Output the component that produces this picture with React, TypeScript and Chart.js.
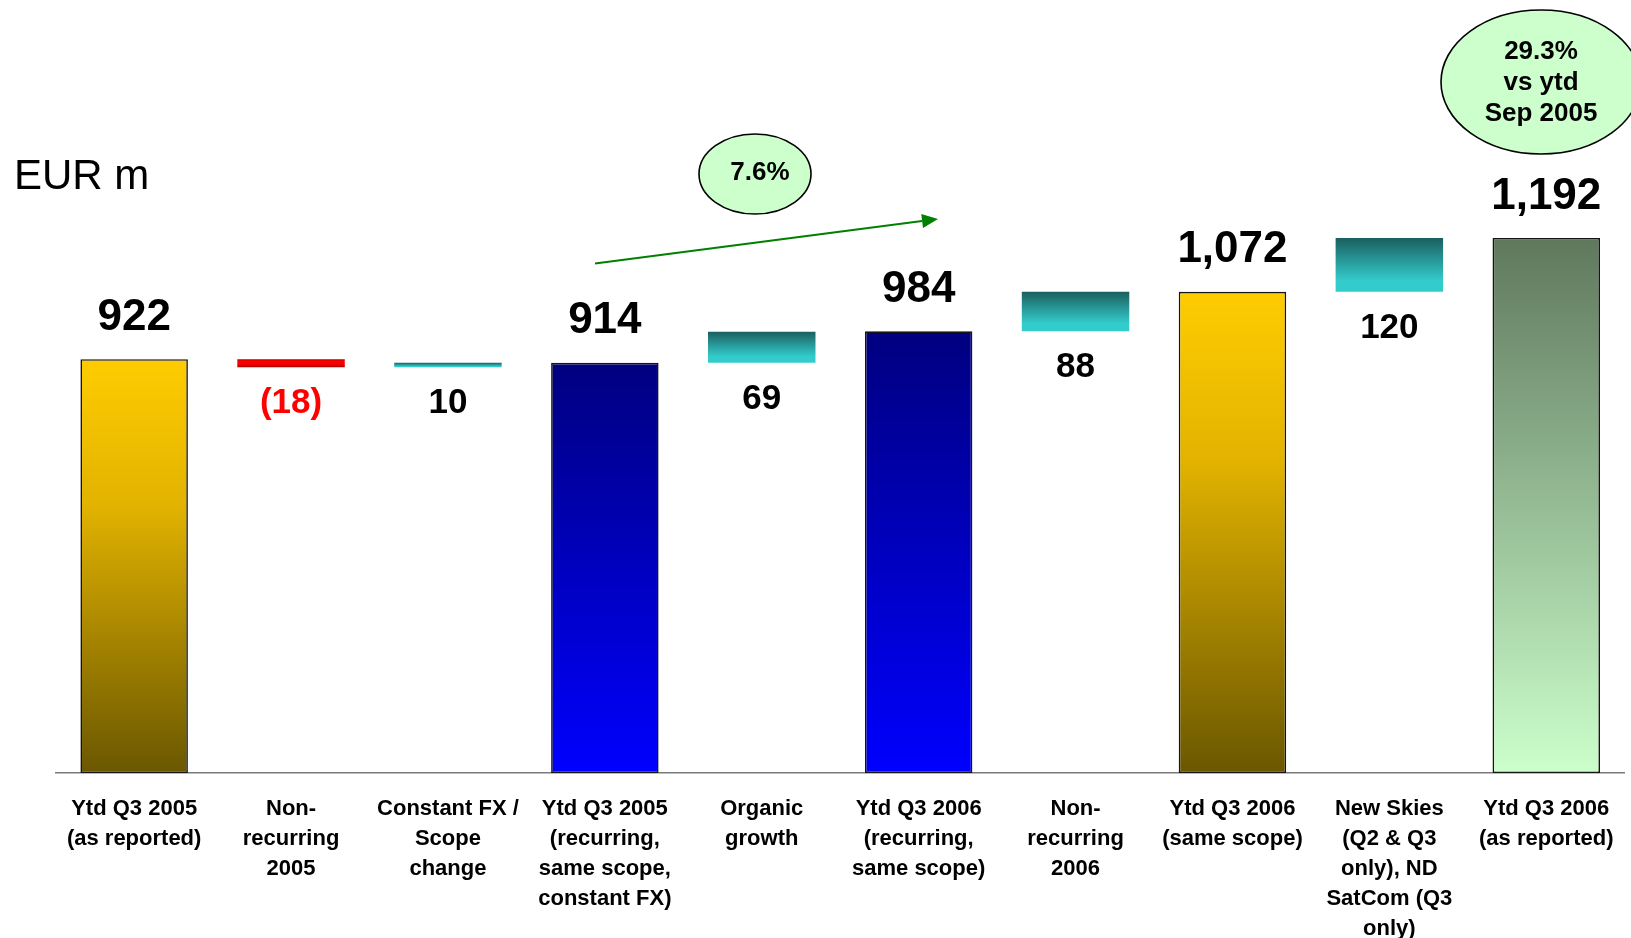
import React, { useEffect, useRef } from 'react';
import { Chart, registerables } from 'chart.js';

Chart.register(...registerables);

// ---------- data ----------
const categories: string[][] = [
  ['Ytd Q3 2005', '(as reported)'],
  ['Non-', 'recurring', '2005'],
  ['Constant FX /', 'Scope', 'change'],
  ['Ytd Q3 2005', '(recurring,', 'same scope,', 'constant FX)'],
  ['Organic', 'growth'],
  ['Ytd Q3 2006', '(recurring,', 'same scope)'],
  ['Non-', 'recurring', '2006'],
  ['Ytd Q3 2006', '(same scope)'],
  ['New Skies', '(Q2 & Q3', 'only), ND', 'SatCom (Q3', 'only)'],
  ['Ytd Q3 2006', '(as reported)'],
];
const values: number[] = [922, -18, 10, 914, 69, 984, 88, 1072, 120, 1192];
const kinds: string[] = ['total', 'delta', 'delta', 'total', 'delta', 'total', 'delta', 'total', 'delta', 'total'];
const growthLabel = '7.6%';
const totalGrowthLines: string[] = ['29.3%', 'vs ytd', 'Sep 2005'];
const unitLabel = 'EUR m';

// ---------- derived ranges (waterfall) ----------
let running = 0;
const ranges: number[][] = values.map((v, i) => {
  if (kinds[i] === 'total') {
    running = v;
    return [0, v];
  }
  const start = running;
  running += v;
  return [Math.min(start, running), Math.max(start, running)];
});

const fmt = (v: number) => {
  const s = Math.abs(v).toLocaleString('en-US');
  return v < 0 ? `(${s})` : s;
};

// ---------- styles ----------
const FONT = '"Liberation Sans", Arial, Helvetica, sans-serif';
type Stops = [number, string][];
const GOLD: Stops = [[0, '#FFCC00'], [0.35, '#E2B300'], [0.72, '#9E7E00'], [1, '#6A5700']];
const BLUE: Stops = [[0, '#000080'], [1, '#0000FF']];
const GREEN: Stops = [[0, '#5F785D'], [1, '#CCFFCC']];
const TEAL: Stops = [[0, '#1B5F5F'], [0.5, '#2AA3A3'], [0.8, '#33CCCC'], [1, '#33CCCC']];
const RED: Stops = [[0, '#B00000'], [0.25, '#FF0000'], [0.7, '#EE0000'], [1, '#A00000']];
const barFills: Stops[] = [GOLD, RED, TEAL, BLUE, TEAL, BLUE, TEAL, GOLD, TEAL, GREEN];

function grad(ctx: CanvasRenderingContext2D, top: number, bottom: number, stops: Stops) {
  const g = ctx.createLinearGradient(0, top, 0, bottom === top ? top + 1 : bottom);
  stops.forEach(([o, c]) => g.addColorStop(o, c));
  return g;
}

const valueLabelPlugin = {
  id: 'valueLabels',
  afterDatasetsDraw(chart: any) {
    const meta = chart.getDatasetMeta(0);
    const ctx: CanvasRenderingContext2D = chart.ctx;
    ctx.save();
    ctx.textAlign = 'center';
    ctx.textBaseline = 'alphabetic';
    meta.data.forEach((el: any, i: number) => {
      const { x, y, base } = el.getProps(['x', 'y', 'base'], true);
      const top = Math.min(y, base);
      const bottom = Math.max(y, base);
      const isTotal = kinds[i] === 'total';
      ctx.font = `bold ${isTotal ? 44 : 35}px ${FONT}`;
      ctx.fillStyle = values[i] < 0 ? '#FF0000' : '#000000';
      ctx.fillText(fmt(values[i]), x, isTotal ? top - 29.5 : bottom + 46);
    });
    ctx.restore();
  },
};

const annotationPlugin = {
  id: 'annotations',
  afterDraw(chart: any) {
    const ctx: CanvasRenderingContext2D = chart.ctx;
    ctx.save();
    // unit label
    ctx.font = `42px ${FONT}`;
    ctx.fillStyle = '#000';
    ctx.textAlign = 'left';
    ctx.textBaseline = 'alphabetic';
    ctx.fillText(unitLabel, 14, 189);

    // arrow
    const x1 = 595, y1 = 263.5, x2 = 938, y2 = 219;
    const ang = Math.atan2(y2 - y1, x2 - x1);
    const hl = 16, hw = 7;
    const bx = x2 - hl * Math.cos(ang), by = y2 - hl * Math.sin(ang);
    ctx.strokeStyle = '#008000';
    ctx.fillStyle = '#008000';
    ctx.lineWidth = 2;
    ctx.beginPath();
    ctx.moveTo(x1, y1);
    ctx.lineTo(bx, by);
    ctx.stroke();
    ctx.beginPath();
    ctx.moveTo(x2, y2);
    ctx.lineTo(bx + hw * Math.sin(ang), by - hw * Math.cos(ang));
    ctx.lineTo(bx - hw * Math.sin(ang), by + hw * Math.cos(ang));
    ctx.closePath();
    ctx.fill();

    // bubbles
    const bubble = (cx: number, cy: number, rx: number, ry: number) => {
      ctx.beginPath();
      ctx.ellipse(cx, cy, rx, ry, 0, 0, Math.PI * 2);
      ctx.fillStyle = '#CCFFCC';
      ctx.fill();
      ctx.lineWidth = 1.6;
      ctx.strokeStyle = '#000';
      ctx.stroke();
    };
    bubble(755, 174, 56, 40);
    bubble(1541, 82, 100, 72);

    ctx.fillStyle = '#000';
    ctx.textAlign = 'center';
    ctx.font = `bold 26px ${FONT}`;
    ctx.fillText(growthLabel, 760, 180);
    totalGrowthLines.forEach((t, i) => ctx.fillText(t, 1541, 59 + i * 31));
    ctx.restore();
  },
};

export default function App() {
  const ref = useRef<HTMLCanvasElement | null>(null);

  useEffect(() => {
    if (!ref.current) return;
    const chart = new Chart(ref.current, {
      type: 'bar',
      data: {
        labels: categories,
        datasets: [
          {
            data: ranges as any,
            backgroundColor: (c: any) => {
              const ch = c.chart;
              const ys = ch.scales?.y;
              if (!ch.chartArea || !ys || c.dataIndex === undefined) return '#999';
              const r = ranges[c.dataIndex];
              const top = ys.getPixelForValue(r[1]);
              const bottom = ys.getPixelForValue(r[0]);
              if (!isFinite(top) || !isFinite(bottom)) return '#999';
              return grad(ch.ctx, top, bottom, barFills[c.dataIndex]);
            },
            borderColor: '#151515',
            borderWidth: (c: any) => (kinds[c.dataIndex] === 'total' ? 1.6 : 0),
            borderSkipped: false,
            categoryPercentage: 0.685,
            barPercentage: 1,
          },
        ],
      },
      options: {
        animation: false,
        responsive: false,
        devicePixelRatio: 1,
        layout: { padding: { left: 55.7, right: 6.3, top: 10, bottom: 0 } },
        plugins: {
          legend: { display: false },
          tooltip: { enabled: false },
        },
        scales: {
          x: {
            grid: { display: false, drawTicks: false },
            border: { display: true, color: '#7a7a7a', width: 1.5 },
            ticks: {
              autoSkip: false,
              maxRotation: 0,
              minRotation: 0,
              padding: 21,
              color: '#000',
              font: { family: FONT, size: 22, weight: 'bold', lineHeight: 30 / 22 },
            },
            afterFit: (scale: any) => {
              scale.height = 165;
              scale.paddingLeft = 0;
              scale.paddingRight = 0;
            },
          },
          y: {
            display: false,
            min: 0,
            max: 1700,
          },
        },
      },
      plugins: [valueLabelPlugin, annotationPlugin],
    });
    return () => chart.destroy();
  }, []);

  return (
    <div
      style={{
        position: 'absolute',
        left: 0,
        top: 0,
        width: 1631,
        height: 938,
        overflow: 'hidden',
        background: '#fff',
      }}
    >
      <canvas ref={ref} width={1631} height={938} style={{ width: 1631, height: 938, display: 'block' }} />
    </div>
  );
}
